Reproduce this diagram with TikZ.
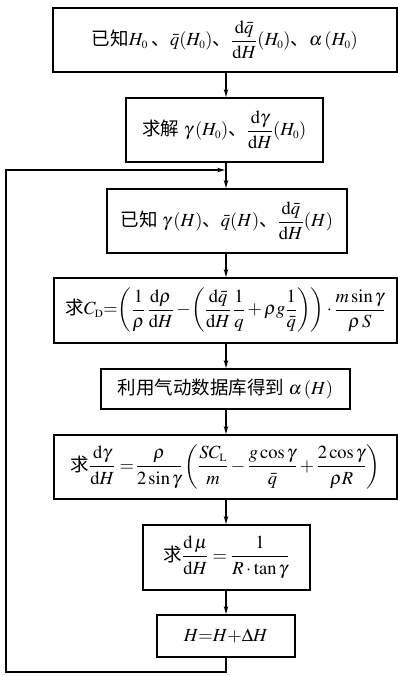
\documentclass[tikz,border=0pt]{standalone}
\usepackage{amsmath}
\usepackage{mathptmx}
\usepackage{fontspec}
\setmainfont{Liberation Serif}
\newfontfamily\cjk{Noto Sans CJK SC}
\usetikzlibrary{arrows.meta}
\begin{document}
\begin{tikzpicture}[x=1pt,y=-1pt,
  stepbox/.style={draw, line width=1.6pt, inner sep=0pt, anchor=north west, align=center,
    font=\fontsize{18.5}{22}\selectfont},
  flow/.style={line width=1.4pt, -{Stealth[length=8pt,width=4.5pt]}},
  loopline/.style={line width=1.4pt}]
\useasboundingbox (0,0) rectangle (397,676);
% axis of the vertical flow
\coordinate (ax) at (226,0);
% boxes: corner, size
\node[stepbox, minimum width=344pt, minimum height=64pt] (b1) at (52,7)
  {{\cjk 已知}$H_{\scriptscriptstyle 0}$\hspace{0.2em}{\cjk 、}$\bar q(H_{\scriptscriptstyle 0})${\cjk 、}$\dfrac{\mathrm{d}\bar q}{\mathrm{d}H}(H_{\scriptscriptstyle 0})${\cjk 、}$\alpha\,(H_{\scriptscriptstyle 0})$};
\node[stepbox, minimum width=197pt, minimum height=64pt] (b2) at (125,97)
  {{\cjk 求解}\ $\gamma\,(H_{\scriptscriptstyle 0})${\cjk 、}$\dfrac{\mathrm{d}\gamma}{\mathrm{d}H}(H_{\scriptscriptstyle 0})$};
\node[stepbox, minimum width=240pt, minimum height=64pt] (b3) at (106,188)
  {{\cjk 已知}\ $\gamma\,(H)${\cjk 、}$\bar q(H)${\cjk 、}$\dfrac{\mathrm{d}\bar q}{\mathrm{d}H}(H)$};
\node[stepbox, minimum width=343pt, minimum height=65pt] (b4) at (53,277)
  {{\cjk 求}$C_{\scriptscriptstyle\mathrm{D}}{=}\!\left(\dfrac{1}{\rho}\,\dfrac{\mathrm{d}\rho}{\mathrm{d}H}-\!\left(\dfrac{\mathrm{d}\bar q}{\mathrm{d}H}\,\dfrac{1}{q}+\rho g\dfrac{1}{\bar q}\right)\right)\cdot\dfrac{m\sin\gamma}{\rho\, S}$};
\node[stepbox, minimum width=249pt, minimum height=40pt] (b5) at (100,368)
  {{\cjk 利用气动数据库得到}\ $\alpha\,(H)$};
\node[stepbox, minimum width=343pt, minimum height=64pt] (b6) at (53,434)
  {{\cjk 求}$\dfrac{\mathrm{d}\gamma}{\mathrm{d}H}=\!\dfrac{\rho}{2\sin\gamma}\left(\dfrac{SC_{\scriptscriptstyle\mathrm{L}}}{m}-\dfrac{g\cos\gamma}{\bar q}+\dfrac{2\cos\gamma}{\rho R}\right)$};
\node[stepbox, minimum width=167pt, minimum height=65pt] (b7) at (142,524)
  {{\cjk 求}$\dfrac{\mathrm{d}\,\mu}{\mathrm{d}H}=\dfrac{1}{R\cdot\tan\gamma}$};
\node[stepbox, minimum width=138pt, minimum height=42pt] (b8) at (156,614)
  {$H{=}H{+}\Delta H$};
% forward flow
\draw[flow] (b1.south -| ax) -- (b2.north -| ax);
\draw[flow] (b2.south -| ax) -- (b3.north -| ax);
\draw[flow] (b3.south -| ax) -- (b4.north -| ax);
\draw[flow] (b4.south -| ax) -- (b5.north -| ax);
\draw[flow] (b5.south -| ax) -- (b6.north -| ax);
\draw[flow] (b6.south -| ax) -- (b7.north -| ax);
\draw[flow] (b7.south -| ax) -- (b8.north -| ax);
% iteration loop back to the top of the step loop
\coordinate (lb) at (6,672);
\coordinate (lt) at (6,170);
\coordinate (lj) at (225,170);
\draw[loopline] (b8.south -| ax) |- (lb) -- (lt) -- ++(10,0);
\draw[flow] (lt) -- (lj);
\end{tikzpicture}
\end{document}
